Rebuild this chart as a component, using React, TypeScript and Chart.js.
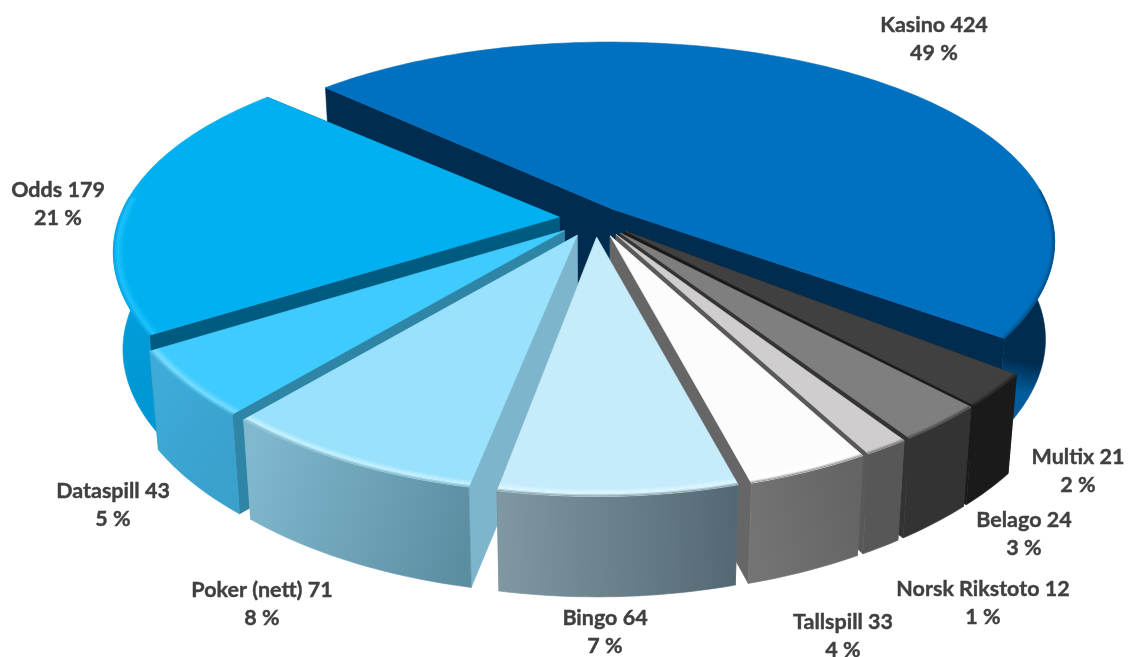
import React, { useEffect, useRef } from "react";
import { Chart, registerables } from "chart.js";

Chart.register(...registerables);

// ---- data
const categories = ["Kasino", "Multix", "Belago", "Norsk Rikstoto", "Tallspill", "Bingo", "Poker (nett)", "Dataspill", "Odds"];
const values = [424, 21, 24, 12, 33, 64, 71, 43, 179];

// ---- styles
const topColors = ["#0070C0", "#404040", "#7F7F7F", "#CFCDCD", "#FCFCFC", "#C6ECFC", "#99E1FC", "#40CBFF", "#00B0F0"];
const glowColors = ["#0070C0", "#404040", "#7F7F7F", "#CFCDCD", "#FFFFFF", "#E4FAFF", "#CFF5FF", "#7FE0FF", "#20C4FF"];
const wallColors = ["#002C50", "#1A1A1A", "#333333", "#595959", "#666666", "#5C7480", "#7DB5CC", "#2F85A5", "#005B80"];
const sideFrom = ["#002C50", "#1A1A1A", "#333333", "#575757", "#646464", "#536872", "#5C8EA2", "#3AA0CC", "#0098D4"];
const sideTo = ["#005C9C", "#1A1A1A", "#333333", "#575757", "#747474", "#8098A2", "#80B8CE", "#3DAAD8", "#00A2E0"];
const sideHold = [0.8, 0, 0, 0, 0, 0, 0, 0, 0];
const explode = [27, 40, 40, 40, 40, 40, 40, 40, 36];
// small per-slice view adjustments, in degrees, for the projected look
const viewNudge = [0, 0.6, 0.3, 0.4, 0.3, 0, 0.6, 0.3, 0.1];
const viewSweep = [0.98, 1, 1, 1, 1, 1, 1, 1, 1];
const labelAnchors = [
  [934, 25], [1078, 457], [1024, 520], [983, 589], [843, 622], [605, 618], [262, 590], [113, 491], [58, 190],
];

const ROTATION_DEG = -48;
const VIEW = { dx: 31, dy: -110, rx: 440, ry: 202, persistX: 0.156, persistY: 0.19, height: 97, taper: 0.02, bevel: 0.026 };
const LINE_GAP = 28.5;
const FONT = 'bold 21.5px Lato, "Open Sans", sans-serif';
const TEXT = "#404040";

function hex(c: string) {
  const n = parseInt(c.slice(1), 16);
  return [(n >> 16) & 255, (n >> 8) & 255, n & 255];
}
function mix(a: string, b: string, t: number) {
  const A = hex(a), B = hex(b);
  const ch = A.map((x, i) => Math.round(x + (B[i] - x) * t));
  return `rgb(${ch[0]},${ch[1]},${ch[2]})`;
}
function sideMean(i: number) {
  const A = hex(sideFrom[i]), B = hex(sideTo[i]);
  const m = A.map((x, k) => Math.round((x + B[k]) / 2));
  return "#" + m.map((x) => x.toString(16).padStart(2, "0")).join("");
}

const pie3d = {
  id: "pie3d",
  beforeDatasetDraw(chart: any) {
    const ctx = chart.ctx as CanvasRenderingContext2D;
    const arcs: any[] = chart.getDatasetMeta(0).data;
    const cx = arcs[0].x + VIEW.dx;
    const cy = arcs[0].y + VIEW.dy;

    const project = (u: number, v: number, z: number) => {
      const sx = 1 / (1 - VIEW.persistX * v);
      const sy = 1 / (1 - VIEW.persistY * v);
      return [
        cx + VIEW.rx * u * sx * (1 - VIEW.taper * z),
        cy + VIEW.ry * v * sy + VIEW.height * z * Math.pow(sy, 0.15),
      ];
    };
    const fillPoly = (pts: number[][], fill: any) => {
      ctx.beginPath();
      pts.forEach((p, i) => (i ? ctx.lineTo(p[0], p[1]) : ctx.moveTo(p[0], p[1])));
      ctx.closePath();
      ctx.fillStyle = fill;
      ctx.strokeStyle = fill;
      ctx.lineWidth = 0.6;
      ctx.fill();
      ctx.stroke();
    };

    const order = arcs
      .map((a, i) => ({ a, i, mid: (a.startAngle + a.endAngle) / 2 }))
      .sort((p, q) => Math.sin(p.mid) - Math.sin(q.mid));

    for (const { a, i, mid: rawMid } of order) {
      const nudge = (viewNudge[i] * Math.PI) / 180;
      const mid = rawMid + nudge;
      const half = ((a.endAngle - a.startAngle) / 2) * viewSweep[i];
      const start = mid - half;
      const end = mid + half;
      const e = (a.options.offset || 0) / VIEW.rx;
      const ox = Math.cos(mid) * e;
      const oy = Math.sin(mid) * e;
      const P = (th: number, r: number, z: number) =>
        project(ox + r * Math.cos(th), oy + r * Math.sin(th), z);
      const steps = Math.max(2, Math.ceil((end - start) / 0.02));
      const angles: number[] = [];
      for (let k = 0; k <= steps; k++) angles.push(start + ((end - start) * k) / steps);

      // radial walls
      for (const th of [start, end]) {
        fillPoly([P(th, 0, 0), P(th, 1, 0), P(th, 1, 1), P(th, 0, 1)], wallColors[i]);
      }
      // outer wall (front-facing part)
      const front = angles.filter((th) => Math.sin(th) > -0.1);
      if (front.length > 1) {
        const p0 = P(front[0], 1, 0.5);
        const p1 = P(front[front.length - 1], 1, 0.5);
        const g = ctx.createLinearGradient(p0[0], p0[1], p1[0], p1[1]);
        g.addColorStop(0, sideFrom[i]);
        if (sideHold[i] > 0) g.addColorStop(sideHold[i], sideFrom[i]);
        g.addColorStop(1, sideTo[i]);
        const pts = [...front.map((t) => P(t, 1, 0)), ...[...front].reverse().map((t) => P(t, 1, 1))];
        fillPoly(pts, g);
      }
      // top face
      fillPoly([P(start, 0, 0), ...angles.map((t) => P(t, 1, 0))], topColors[i]);
      // rim bevel: top colour -> highlight -> wall colour
      if (front.length > 1) {
        const bands = 8;
        const side = sideMean(i);
        for (let b = 0; b < bands; b++) {
          const t0 = b / bands;
          const r0 = 1 - VIEW.bevel * (1 - t0);
          const r1 = 1 - VIEW.bevel * (1 - (b + 1) / bands);
          const c = t0 < 0.6
            ? mix(topColors[i], glowColors[i], t0 / 0.6)
            : mix(glowColors[i], side, (t0 - 0.6) / 0.4);
          const pts = [...front.map((t) => P(t, r1, 0)), ...[...front].reverse().map((t) => P(t, r0, 0))];
          ctx.beginPath();
          pts.forEach((p, n) => (n ? ctx.lineTo(p[0], p[1]) : ctx.moveTo(p[0], p[1])));
          ctx.closePath();
          ctx.fillStyle = c;
          ctx.fill();
        }
      }
    }
    return false;
  },
  afterDraw(chart: any) {
    const ctx = chart.ctx as CanvasRenderingContext2D;
    const total = values.reduce((s, x) => s + x, 0);
    ctx.save();
    ctx.font = FONT;
    ctx.fillStyle = TEXT;
    ctx.strokeStyle = TEXT;
    ctx.lineWidth = 0.4;
    ctx.textAlign = "center";
    ctx.textBaseline = "middle";
    categories.forEach((name, i) => {
      const [x, y] = labelAnchors[i];
      const line1 = `${name} ${values[i]}`;
      const line2 = `${Math.round((values[i] / total) * 100)} %`;
      ctx.fillText(line1, x, y);
      ctx.strokeText(line1, x, y);
      ctx.fillText(line2, x, y + LINE_GAP);
      ctx.strokeText(line2, x, y + LINE_GAP);
    });
    ctx.restore();
  },
};

export default function App() {
  const ref = useRef<HTMLCanvasElement>(null);
  useEffect(() => {
    document.body.style.margin = "0";
    const chart = new Chart(ref.current!, {
      type: "pie",
      data: {
        labels: categories,
        datasets: [{ data: values, backgroundColor: topColors, offset: explode, borderWidth: 0 }],
      },
      options: {
        responsive: false,
        animation: false,
        rotation: ROTATION_DEG,
        plugins: { legend: { display: false }, tooltip: { enabled: false } },
      },
      plugins: [pie3d],
    } as any);
    return () => chart.destroy();
  }, []);
  return <canvas ref={ref} width={1128} height={657} style={{ display: "block" }} />;
}
